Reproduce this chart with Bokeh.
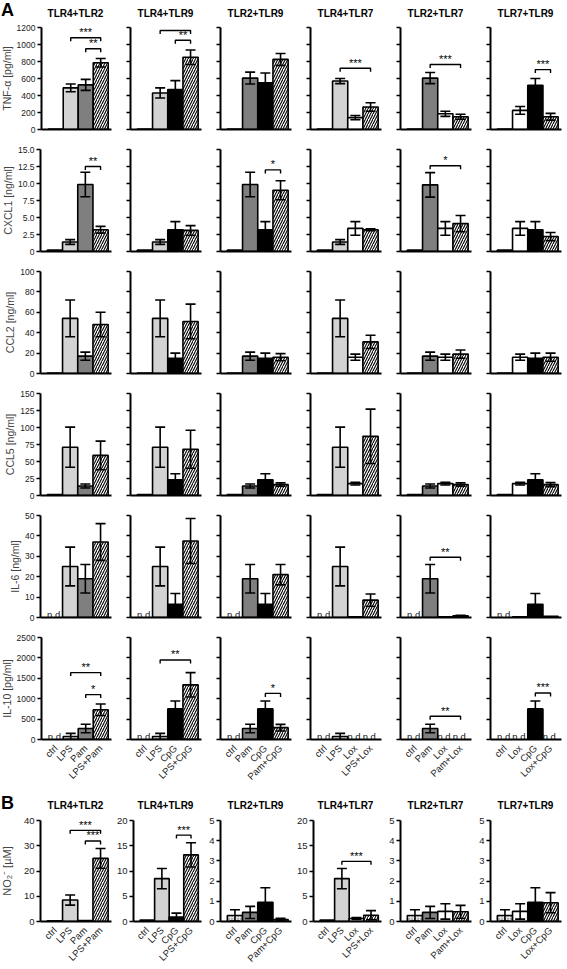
import math
from bokeh.plotting import figure
from bokeh.models import ColumnDataSource, Range1d, FixedTicker, Whisker, TeeHead, LabelSet, Div
from bokeh.layouts import column, row
from bokeh.embed import file_html
from bokeh.resources import INLINE
from bokeh.core.properties import value

FONT = "Liberation Sans"

panel_letters = ["A", "B"]
col_titles = ["TLR4+TLR2", "TLR4+TLR9", "TLR2+TLR9", "TLR4+TLR7", "TLR2+TLR7", "TLR7+TLR9"]
col_cats = [
    ["ctrl", "LPS", "Pam", "LPS+Pam"],
    ["ctrl", "LPS", "CpG", "LPS+CpG"],
    ["ctrl", "Pam", "CpG", "Pam+CpG"],
    ["ctrl", "LPS", "Lox", "LPS+Lox"],
    ["ctrl", "Pam", "Lox", "Pam+Lox"],
    ["ctrl", "Lox", "CpG", "Lox+CpG"],
]

# ---------- Panel A ----------
tnf_label = "TNF-α [pg/ml]"
tnf_ticks = [0, 200, 400, 600, 800, 1000, 1200]
tnf_tick_labels = ["0", "200", "400", "600", "800", "1000", "1200"]
tnf_mean = [[5, 490, 525, 785], [5, 430, 470, 850], [5, 605, 550, 825],
            [5, 570, 140, 265], [5, 605, 185, 150], [5, 225, 520, 150]]
tnf_err = [[0, 45, 65, 50], [0, 60, 105, 85], [0, 70, 115, 70],
           [0, 30, 25, 50], [0, 65, 30, 30], [0, 45, 80, 40]]
tnf_brackets = [(0, 1, 3, 1080, "***"), (0, 2, 3, 950, "**"), (1, 1, 3, 1165, "**"),
                (1, 2, 3, 1050, "**"), (3, 1, 3, 720, "***"), (4, 1, 3, 765, "***"),
                (5, 2, 3, 705, "***")]

cxcl1_label = "CXCL1 [ng/ml]"
cxcl1_ticks = [0, 2.5, 5, 7.5, 10, 12.5, 15]
cxcl1_tick_labels = ["0", "2.5", "5.0", "7.5", "10.0", "12.5", "15.0"]
cxcl1_mean = [[0.2, 1.4, 9.85, 3.2], [0.2, 1.4, 3.2, 3.1], [0.2, 9.85, 3.2, 9.0],
              [0.2, 1.4, 3.4, 3.2], [0.2, 9.8, 3.4, 4.1], [0.2, 3.4, 3.2, 2.2]]
cxcl1_err = [[0, 0.35, 1.8, 0.5], [0, 0.35, 1.2, 0.7], [0, 1.8, 1.2, 1.4],
             [0, 0.35, 1.0, 0.15], [0, 1.8, 1.0, 1.2], [0, 1.0, 1.2, 0.6]]
cxcl1_brackets = [(0, 2, 3, 12.5, "**"), (2, 2, 3, 12.0, "*"), (4, 1, 3, 12.6, "*")]

ccl2_label = "CCL2 [ng/ml]"
ccl2_ticks = [0, 20, 40, 60, 80, 100]
ccl2_tick_labels = ["0", "20", "40", "60", "80", "100"]
ccl2_mean = [[0.5, 54, 17, 48], [0.5, 54, 15, 51], [0.5, 17, 15, 16],
             [0.5, 54, 16, 31], [0.5, 17, 16, 19], [0.5, 16, 15, 16]]
ccl2_err = [[0, 18, 4, 12], [0, 18, 5, 17], [0, 4, 5, 3.5],
            [0, 18, 3, 6.5], [0, 4, 3, 4], [0, 3, 5, 4]]
ccl2_brackets = []

ccl5_label = "CCL5 [ng/ml]"
ccl5_ticks = [0, 25, 50, 75, 100, 125, 150]
ccl5_tick_labels = ["0", "25", "50", "75", "100", "125", "150"]
ccl5_mean = [[1.5, 71, 14, 59], [1.5, 71, 23, 68], [1.5, 14, 23, 16],
             [1.5, 71, 17.5, 87], [1.5, 14, 17.5, 16], [1.5, 17.5, 23, 16]]
ccl5_err = [[0, 29.5, 3, 21], [0, 29.5, 9, 28], [0, 3, 9, 2.5],
            [0, 29.5, 2, 40], [0, 3, 2, 2.5], [0, 2, 9, 3]]
ccl5_brackets = []

il6_label = "IL-6 [ng/ml]"
il6_ticks = [0, 10, 20, 30, 40, 50]
il6_tick_labels = ["0", "10", "20", "30", "40", "50"]
il6_mean = [[None, 25, 19, 37], [None, 25, 6.5, 37.5], [None, 19, 6.5, 21],
            [None, 25, 0.3, 8.5], [None, 19, 0.3, 0.8], [None, 0.4, 6.5, 0.6]]
il6_err = [[0, 9.5, 7, 9], [0, 9.5, 5.3, 11], [0, 7, 5.3, 5],
           [0, 9.5, 0, 3], [0, 7, 0, 0.3], [0, 0, 5.3, 0]]
il6_brackets = [(4, 1, 3, 29.5, "**")]

il10_label = "IL-10 [pg/ml]"
il10_ticks = [0, 500, 1000, 1500, 2000, 2500]
il10_tick_labels = ["0", "500", "1000", "1500", "2000", "2500"]
il10_mean = [[None, 75, 270, 730], [None, 75, 750, 1340], [None, 270, 750, 290],
             [None, 75, None, None], [None, 270, None, None], [None, None, 750, None]]
il10_err = [[0, 75, 105, 140], [0, 75, 195, 300], [0, 105, 195, 80],
            [0, 75, 0, 0], [0, 105, 0, 0], [0, 0, 195, 0]]
il10_brackets = [(0, 1, 3, 1640, "**"), (0, 2, 3, 1100, "*"), (1, 1, 3, 1950, "**"),
                 (2, 2, 3, 1130, "*"), (4, 1, 3, 570, "**"), (5, 2, 3, 1140, "***")]

# ---------- Panel B ----------
no2_label = "NO₂⁻ [µM]"
no2_ticks = [[0, 10, 20, 30, 40], [0, 5, 10, 15, 20], [0, 1, 2, 3, 4, 5],
             [0, 5, 10, 15, 20], [0, 1, 2, 3, 4, 5], [0, 1, 2, 3, 4, 5]]
no2_mean = [[0.3, 8.5, 0.4, 25], [0.3, 8.5, 0.9, 13.2], [0.3, 0.45, 0.95, 0.1],
            [0.3, 8.5, 0.6, 1.25], [0.3, 0.45, 0.5, 0.48], [0.3, 0.5, 0.95, 0.93]]
no2_err = [[0, 2, 0, 3.9], [0, 2, 0.75, 2.4], [0.28, 0.3, 0.72, 0.06],
           [0, 2, 0.2, 0.9], [0.28, 0.3, 0.38, 0.32], [0.28, 0.38, 0.72, 0.5]]
no2_brackets = [(0, 1, 3, 36.1, "***"), (0, 2, 3, 31.9, "***"), (1, 2, 3, 17.1, "***"),
                (3, 1, 3, 11.9, "***")]

FR_W = 71
FR_H = 102
PITCH = 90
BASE_FILL = {"ctrl": "#ffffff", "LPS": "#d3d3d3", "Pam": "#7f7f7f", "CpG": "#000000", "Lox": "#ffffff"}


def bar_style(cat, panel_b):
    if "+" in cat:
        return "#ffffff", "/", "#000000", 5
    if cat == "ctrl" and panel_b:
        return "#e4e4e4", ".", "#666666", 3
    return BASE_FILL[cat], " ", "#000000", 5


def header(letter, letter_top, title_top, height):
    parts = ['<span style="position:absolute;left:4px;top:%dpx;font-size:18px;font-weight:bold;'
             'line-height:1;">%s</span>' % (letter_top, letter)]
    for c, t in enumerate(col_titles):
        cx = 43 + FR_W / 2 + PITCH * c
        parts.append('<span style="position:absolute;left:%.1fpx;top:%dpx;transform:translateX(-50%%);'
                     'font-size:10px;font-weight:bold;line-height:1;white-space:nowrap;">%s</span>'
                     % (cx, title_top, t))
    html = ('<div style="position:relative;width:566px;height:%dpx;'
            'font-family:\'Liberation Sans\',Arial,sans-serif;color:#000;">' % height
            + "".join(parts) + "</div>")
    return Div(text=html, width=566, height=height, margin=0)


def make_panel(c, ymax, ticks, tick_labels, show_tl, mean, err, brackets, ylabel,
               xlabels, b_top, b_bot, panel_b, tick_fs):
    left = 43 if c == 0 else 17
    right = 2
    cats = col_cats[c]
    p = figure(width=left + FR_W + right, height=b_top + FR_H + b_bot,
               x_range=Range1d(-0.95, 3.72), y_range=Range1d(0, ymax),
               toolbar_location=None, output_backend="svg",
               min_border_left=left, min_border_right=right,
               min_border_top=b_top, min_border_bottom=b_bot)
    p.outline_line_color = None
    p.xgrid.grid_line_color = None
    p.ygrid.grid_line_color = None
    p.background_fill_color = "white"
    p.border_fill_color = "white"

    xs, tops, fills, hatches, hcols, hscales = [], [], [], [], [], []
    for i, m in enumerate(mean):
        if m is None:
            continue
        f, h, hc, hs = bar_style(cats[i], panel_b)
        xs.append(i); tops.append(m); fills.append(f); hatches.append(h)
        hcols.append(hc); hscales.append(hs)
    src = ColumnDataSource(dict(x=xs, top=tops, fill=fills, hatch=hatches, hcol=hcols, hs=hscales))
    p.vbar(x="x", top="top", bottom=0, width=1, source=src, fill_color="fill",
           line_color="black", line_width=1.6, hatch_pattern="hatch", hatch_color="hcol",
           hatch_scale="hs", hatch_weight=1.1)

    wb, wu, wl = [], [], []
    for i, m in enumerate(mean):
        if m is None or err[i] <= 0:
            continue
        wb.append(i); wu.append(m + err[i]); wl.append(max(m - err[i], 0))
    if wb:
        wsrc = ColumnDataSource(dict(base=wb, upper=wu, lower=wl))
        w = Whisker(source=wsrc, base="base", upper="upper", lower="lower",
                    line_color="black", line_width=1.6, level="annotation",
                    upper_head=TeeHead(size=10, line_width=1.6, line_color="black"),
                    lower_head=TeeHead(size=10, line_width=1.6, line_color="black"))
        p.add_layout(w)

    nd = [i for i, m in enumerate(mean) if m is None]
    if nd:
        p.text(x=nd, y=[3.0 / FR_H * ymax] * len(nd), text=["n.d."] * len(nd),
               text_font=value(FONT), text_font_size="9.5px", text_align="center",
               text_baseline="alphabetic", text_color="#111111")

    d = 3.5 / FR_H * ymax
    bx, by, sx, sy, st = [], [], [], [], []
    for (cc, i1, i2, y, txt) in brackets:
        if cc != c:
            continue
        bx.append([i1, i1, i2, i2]); by.append([y - d, y, y, y - d])
        sx.append((i1 + i2) / 2); sy.append(y + 1.5 / FR_H * ymax); st.append(txt)
    if bx:
        p.multi_line(xs=bx, ys=by, line_color="black", line_width=1.4)
        ls = LabelSet(x="x", y="y", text="t", source=ColumnDataSource(dict(x=sx, y=sy, t=st)),
                      text_font=value(FONT), text_font_size="11px", text_align="center",
                      text_baseline="alphabetic", text_color="black")
        p.add_layout(ls)

    yax = p.yaxis[0]
    yax.ticker = FixedTicker(ticks=ticks)
    yax.major_label_overrides = {t: (lab if show_tl else "") for t, lab in zip(ticks, tick_labels)}
    yax.axis_line_width = 2
    yax.major_tick_line_width = 1.6
    yax.major_tick_out = 4
    yax.major_tick_in = 0
    yax.minor_tick_line_color = None
    yax.major_label_text_font = FONT
    yax.major_label_text_font_size = tick_fs
    yax.major_label_text_color = "#222222"
    yax.major_label_standoff = 2
    if ylabel:
        yax.axis_label = ylabel
        yax.axis_label_text_font = FONT
        yax.axis_label_text_font_size = "11px" if panel_b else "10.5px"
        yax.axis_label_text_font_style = "normal"
        yax.axis_label_standoff = 8 if panel_b else 1

    xax = p.xaxis[0]
    xax.axis_line_width = 2
    xax.major_tick_line_color = None
    xax.minor_tick_line_color = None
    if xlabels:
        xax.ticker = FixedTicker(ticks=[0, 1, 2, 3])
        xax.major_label_overrides = {i: cat for i, cat in enumerate(cats)}
        xax.major_label_orientation = math.pi / 4
        xax.major_label_text_font = FONT
        xax.major_label_text_font_size = "9.5px"
        xax.major_label_text_color = "#222222"
        xax.major_label_standoff = 1
    else:
        xax.ticker = FixedTicker(ticks=[])
    return p


rows_a = [
    (tnf_label, 1200, tnf_ticks, tnf_tick_labels, tnf_mean, tnf_err, tnf_brackets),
    (cxcl1_label, 15, cxcl1_ticks, cxcl1_tick_labels, cxcl1_mean, cxcl1_err, cxcl1_brackets),
    (ccl2_label, 100, ccl2_ticks, ccl2_tick_labels, ccl2_mean, ccl2_err, ccl2_brackets),
    (ccl5_label, 150, ccl5_ticks, ccl5_tick_labels, ccl5_mean, ccl5_err, ccl5_brackets),
    (il6_label, 50, il6_ticks, il6_tick_labels, il6_mean, il6_err, il6_brackets),
    (il10_label, 2500, il10_ticks, il10_tick_labels, il10_mean, il10_err, il10_brackets),
]

layout_items = [header(panel_letters[0], 2, 10, 20)]
for r, (lab, ymax, ticks, tls, mean, err, brs) in enumerate(rows_a):
    b_top = 8 if r == 0 else 10
    b_bot = 52 if r == 5 else 10
    figs = []
    for c in range(6):
        figs.append(make_panel(c, ymax, ticks, tls, c == 0, mean[c], err[c], brs,
                               lab if c == 0 else None, r == 5, b_top, b_bot, False, "8.5px"))
    layout_items.append(row(*figs))

layout_items.append(header(panel_letters[1], 3, 10, 21))
figs_b = []
for c in range(6):
    ymax = no2_ticks[c][-1]
    tls = [str(t) for t in no2_ticks[c]]
    figs_b.append(make_panel(c, ymax, no2_ticks[c], tls, True, no2_mean[c], no2_err[c], no2_brackets,
                             no2_label if c == 0 else None, True, 8, 48, True, "9.5px"))
layout_items.append(row(*figs_b))

root = column(*layout_items, styles={"margin-top": "-1px", "margin-left": "-3px",
                                     "margin-bottom": "-9px"})

open("out.html", "w").write(file_html(root, INLINE))
